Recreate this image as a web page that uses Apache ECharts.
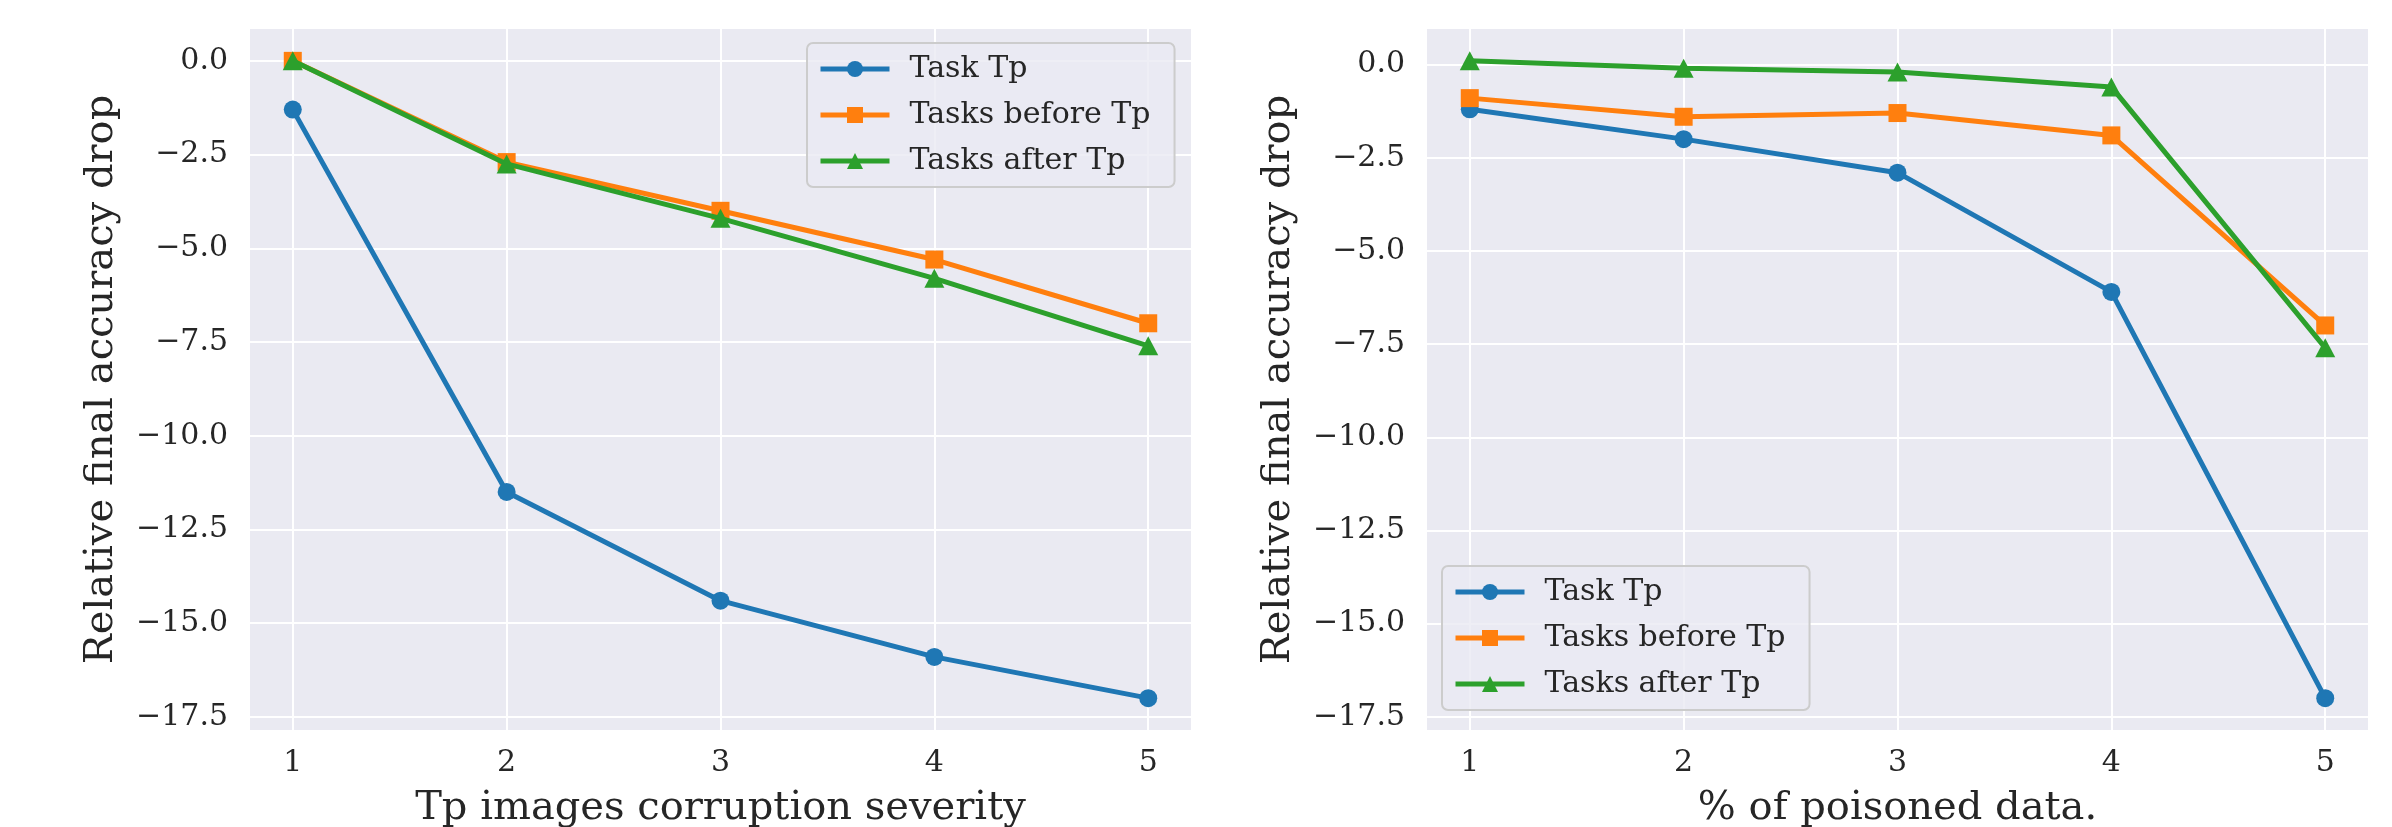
<!DOCTYPE html>
<html>
<head>
<meta charset="utf-8">
<script src="https://cdn.jsdelivr.net/npm/echarts@6/dist/echarts.min.js"></script>
<style>
  html, body { margin: 0; padding: 0; background: #fff; }
  #chart { width: 2392px; height: 827px; }
</style>
</head>
<body>
<div id="chart"></div>
<script>
// x positions and tick labels
var xTicks = [1, 2, 3, 4, 5];
var yTicks = [0, -2.5, -5, -7.5, -10, -12.5, -15, -17.5];
var seriesNames = ['Task Tp', 'Tasks before Tp', 'Tasks after Tp'];

// left panel: corruption severity
var severityTaskTp = [-1.3, -11.5, -14.4, -15.9, -17.0];
var severityBefore = [0.0, -2.7, -4.0, -5.3, -7.0];
var severityAfter = [0.0, -2.75, -4.2, -5.8, -7.6];

// right panel: % of poisoned data
var poisonTaskTp = [-1.2, -2.0, -2.9, -6.1, -17.0];
var poisonBefore = [-0.9, -1.4, -1.3, -1.9, -7.0];
var poisonAfter = [0.1, -0.1, -0.2, -0.6, -7.6];

var font = 'DejaVu Serif';
var textColor = '#262626';
var colors = ['#1f77b4', '#ff7f0e', '#2ca02c'];
var symbols = ['circle', 'rect', 'triangle'];
var symbolSizes = [18, 18, [20, 19]];

function pairs(vals) {
    return vals.map(function (v, i) { return [xTicks[i], v]; });
}

function fmtY(v) {
    return (v < 0 ? '\u2212' : '') + Math.abs(v).toFixed(1);
}

function xAxisFor(idx, name) {
    return {
        type: 'value',
        gridIndex: idx,
        min: 0.8,
        max: 5.2,
        name: name,
        nameLocation: 'middle',
        nameGap: 59,
        nameTextStyle: { fontFamily: font, fontSize: 40, color: textColor },
        axisLine: { show: false },
        axisTick: { show: false, customValues: xTicks },
        axisLabel: {
            customValues: xTicks,
            fontFamily: font, fontSize: 30, color: textColor, margin: 18,
            formatter: function (v) { return String(v); }
        },
        splitLine: { show: true, lineStyle: { color: '#ffffff', width: 2 } }
    };
}

function yAxisFor(idx, min, max) {
    return {
        type: 'value',
        gridIndex: idx,
        min: min,
        max: max,
        name: 'Relative final accuracy drop',
        nameLocation: 'middle',
        nameGap: 128,
        nameTextStyle: { fontFamily: font, fontSize: 40, color: textColor },
        axisLine: { show: false },
        axisTick: { show: false, customValues: yTicks },
        axisLabel: {
            customValues: yTicks,
            fontFamily: font, fontSize: 30, color: textColor, margin: 22,
            formatter: fmtY
        },
        splitLine: { show: true, lineStyle: { color: '#ffffff', width: 2 } }
    };
}

function legendAt(left, top) {
    return {
        data: seriesNames,
        orient: 'vertical',
        left: left,
        top: top,
        itemWidth: 69,
        itemHeight: 20,
        itemGap: 16,
        padding: [11, 24, 11, 11],
        backgroundColor: 'rgba(234,234,242,0.8)',
        borderColor: '#cccccc',
        borderWidth: 2,
        borderRadius: 6,
        lineStyle: { width: 5 },
        textStyle: { fontFamily: font, fontSize: 30, color: textColor, padding: [0, 0, 0, 15] }
    };
}

function lineSeries(i, vals, gridIdx) {
    return {
        type: 'line',
        name: seriesNames[i],
        xAxisIndex: gridIdx,
        yAxisIndex: gridIdx,
        data: pairs(vals),
        color: colors[i],
        symbol: symbols[i],
        symbolSize: symbolSizes[i],
        lineStyle: { width: 5, color: colors[i] },
        itemStyle: { color: colors[i] },
        z: 2 + i
    };
}

var chartDom = document.getElementById('chart');
var myChart = echarts.init(chartDom);

var option = {
    animation: false,
    backgroundColor: '#ffffff',
    grid: [
        { left: 250, right: 1201, top: 29, bottom: 97, show: true, backgroundColor: '#eaeaf2', borderWidth: 0, outerBoundsMode: 'none' },
        { left: 1427, right: 24, top: 29, bottom: 97, show: true, backgroundColor: '#eaeaf2', borderWidth: 0, outerBoundsMode: 'none' }
    ],
    legend: [legendAt(807, 43), legendAt(1442, 566)],
    xAxis: [
        xAxisFor(0, 'Tp images corruption severity'),
        xAxisFor(1, '% of poisoned data.')
    ],
    yAxis: [
        yAxisFor(0, -17.85, 0.85),
        yAxisFor(1, -17.855, 0.955)
    ],
    series: [
        lineSeries(0, severityTaskTp, 0),
        lineSeries(1, severityBefore, 0),
        lineSeries(2, severityAfter, 0),
        lineSeries(0, poisonTaskTp, 1),
        lineSeries(1, poisonBefore, 1),
        lineSeries(2, poisonAfter, 1)
    ]
};

myChart.setOption(option);
</script>
</body>
</html>
